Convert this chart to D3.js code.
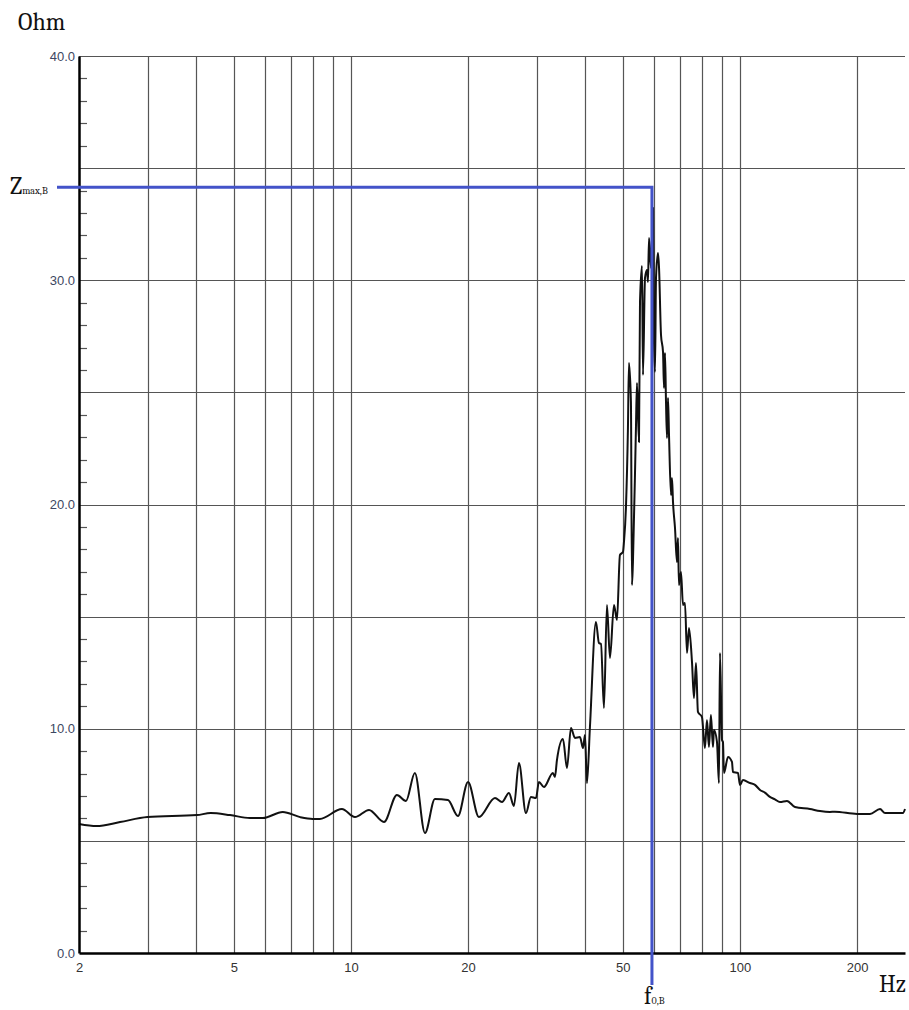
<!DOCTYPE html>
<html>
<head>
<meta charset="utf-8">
<script src="https://cdn.jsdelivr.net/npm/d3@7"></script>
<style>
  body { margin: 0; background: #fff; }
  svg { display: block; }
</style>
</head>
<body>
<div id="my_dataviz"></div>
<script>

// impedance curve (Hz, Ohm)
var freqHz = [2.0, 2.22, 2.55, 3.0, 4.02, 4.36, 4.89, 5.5, 5.94, 6.68, 7.4, 7.98, 8.32, 9.48, 10.24, 11.13, 12.16,
  13.13, 13.85, 14.6, 15.5, 16.44, 17.76, 18.84, 20.0, 21.33, 23.46, 24.45, 25.48, 26.24, 27.03, 28.18, 29.02,
  29.9, 30.43, 31.34, 33.05, 33.45, 33.85, 35.08, 35.92, 36.78, 37.66, 38.79, 39.49, 39.96, 40.43, 41.15,
  42.64, 43.41, 43.93, 44.71, 45.51, 46.33, 47.44, 48.29, 49.15, 50.03, 50.33, 50.93, 51.53, 51.84, 52.45,
  52.77, 53.08, 54.03, 54.36, 55.01, 55.34, 56.0, 56.33, 57.0, 57.68, 58.02, 58.37, 59.06, 59.77, 60.12,
  60.48, 60.84, 61.56, 61.93, 62.67, 63.42, 63.79, 64.17, 64.55, 64.93, 65.32, 65.71, 66.49, 66.88, 67.28,
  68.08, 68.87, 69.28, 69.7, 70.53, 71.38, 72.22, 73.09, 73.96, 75.28, 76.17, 77.09, 77.98, 79.86, 81.28,
  82.26, 83.23, 84.21, 85.23, 85.74, 87.28, 88.31, 88.84, 89.9, 90.43, 90.98, 93.16, 95.38, 95.94, 98.83,
  100, 101.8, 106.1, 109.3, 112.6, 115.9, 119.4, 123.0, 126.7, 132.1, 138.5, 151.3, 160.6, 170.3, 175.4,
  200, 215.9, 229.1, 236.0, 262.4, 265.6];
var ohm = [5.75, 5.66, 5.84, 6.06, 6.15, 6.24, 6.15, 6.02, 6.02, 6.29, 6.06, 5.98, 5.98, 6.42, 6.06, 6.38, 5.84,
  7.05, 6.78, 8.03, 5.35, 6.87, 6.82, 6.11, 7.63, 6.06, 6.91, 6.73, 7.14, 6.56, 8.47, 6.24, 6.96,
  6.91, 7.63, 7.4, 8.03, 7.85, 8.6, 9.54, 8.25, 10.03, 9.59, 9.63, 9.14, 9.72, 7.58, 10.08,
  14.76, 13.82, 13.78, 10.93, 15.52, 13.15, 15.52, 14.85, 17.75, 17.88, 18.33, 19.89, 23.41, 26.31, 24.57,
  16.41, 17.44, 23.41, 25.42, 22.79, 29.03, 30.64, 25.78, 30.1, 30.46, 29.92, 31.88, 30.55, 33.22, 27.25,
  25.91, 30.1, 31.22, 30.59, 27.56, 26.8, 25.2, 26.76, 24.57, 22.97, 24.75, 23.1, 20.42, 21.18, 20.11,
  18.95, 17.44, 18.51, 16.41, 16.99, 15.52, 15.61, 13.38, 14.49, 12.98, 11.37, 12.93, 10.75, 10.52, 9.14,
  10.39, 9.19, 10.61, 9.19, 9.94, 9.41, 7.58, 13.38, 9.5, 9.41, 8.03, 8.74, 8.52, 8.07, 8.03,
  7.49, 7.71, 7.58, 7.5, 7.27, 7.15, 6.96, 6.85, 6.73, 6.78, 6.51, 6.42, 6.33, 6.29, 6.3,
  6.2, 6.2, 6.42, 6.24, 6.24, 6.42];

// axis ticks and grid
var xTickValues = [2, 5, 10, 20, 50, 100, 200];
var xGridValues = [3, 4, 5, 6, 7, 8, 9, 10, 20, 30, 40, 50, 60, 70, 80, 90, 100, 200];
var yTickValues = [0, 10, 20, 30, 40];
var yGridValues = [5, 10, 15, 20, 25, 30, 35, 40];
var yMinorValues = d3.range(1, 40);

// resonance marker
var f0 = 59.4;
var zMax = 34.15;

var margin = { top: 56, right: 4, bottom: 57, left: 79 },
  width = 909 - margin.left - margin.right,
  height = 1010 - margin.top - margin.bottom;

var svg = d3.select("#my_dataviz")
  .append("svg")
  .attr("width", 909)
  .attr("height", 1010);

var g = svg.append("g")
  .attr("transform", "translate(" + margin.left + "," + margin.top + ")");

var x = d3.scaleLog()
  .domain([2, 265.6])
  .range([0, width]);

var y = d3.scaleLinear()
  .domain([0, 40])
  .range([height, 0]);

// grid lines
g.selectAll(".vgrid")
  .data(xGridValues)
  .enter()
  .append("line")
  .attr("x1", function (d) { return Math.round(x(d)) + 0.5; })
  .attr("x2", function (d) { return Math.round(x(d)) + 0.5; })
  .attr("y1", 0)
  .attr("y2", height)
  .attr("stroke", "#555")
  .attr("stroke-width", 1.2);

g.selectAll(".hgrid")
  .data(yGridValues)
  .enter()
  .append("line")
  .attr("x1", 0)
  .attr("x2", width)
  .attr("y1", function (d) { return Math.round(y(d)) + 0.5; })
  .attr("y2", function (d) { return Math.round(y(d)) + 0.5; })
  .attr("stroke", "#555")
  .attr("stroke-width", 1.2);

// minor ticks on the Ohm axis
g.selectAll(".minor")
  .data(yMinorValues.filter(function (d) { return d % 5 != 0; }))
  .enter()
  .append("line")
  .attr("x1", 0)
  .attr("x2", 8)
  .attr("y1", function (d) { return Math.round(y(d)) + 0.5; })
  .attr("y2", function (d) { return Math.round(y(d)) + 0.5; })
  .attr("stroke", "#555")
  .attr("stroke-width", 1.2);

// the impedance curve
var points = freqHz.map(function (f, i) { return [f, ohm[i]]; });
var line = d3.line()
  .x(function (d) { return x(d[0]); })
  .y(function (d) { return y(d[1]); })
  .curve(d3.curveMonotoneX);

g.append("path")
  .datum(points)
  .attr("fill", "none")
  .attr("stroke", "#111")
  .attr("stroke-width", 2)
  .attr("stroke-linejoin", "round")
  .attr("d", line);

// axes
var yAxis = g.append("g")
  .call(d3.axisLeft(y).tickValues(yTickValues).tickSize(0).tickPadding(4).tickFormat(d3.format(".1f")));
yAxis.select(".domain").attr("stroke", "#000").attr("stroke-width", 2.5);
yAxis.selectAll("text")
  .attr("font-family", "Liberation Sans, Arial, sans-serif")
  .attr("font-size", "13px")
  .attr("fill", "#3d4762");

var xAxis = g.append("g")
  .attr("transform", "translate(0," + height + ")")
  .call(d3.axisBottom(x).tickValues(xTickValues).tickSize(0).tickPadding(10).tickFormat(d3.format("d")));
xAxis.select(".domain").attr("stroke", "#000").attr("stroke-width", 2.5);
xAxis.selectAll("text")
  .attr("font-family", "Liberation Sans, Arial, sans-serif")
  .attr("font-size", "13px")
  .attr("fill", "#333");

// blue markers for f0 and Zmax
g.append("path")
  .attr("d", "M" + (57 - margin.left) + "," + y(zMax) + "H" + x(f0) + "V" + (985 - margin.top))
  .attr("fill", "none")
  .attr("stroke", "#4353c9")
  .attr("stroke-width", 3);

// labels
var serif = "Cambria, Liberation Serif, DejaVu Serif, serif";

svg.append("text")
  .attr("x", 18)
  .attr("y", 30)
  .attr("font-family", serif)
  .attr("font-size", "24px")
  .attr("fill", "#111")
  .text("Ohm");

svg.append("text")
  .attr("x", 906)
  .attr("y", 992)
  .attr("text-anchor", "end")
  .attr("font-family", serif)
  .attr("font-size", "24px")
  .attr("fill", "#111")
  .text("Hz");

var zLabel = svg.append("text")
  .attr("x", 10)
  .attr("y", margin.top + y(zMax) + 7)
  .attr("font-family", serif)
  .attr("font-size", "24px")
  .attr("fill", "#111");
zLabel.append("tspan").text("Z");
zLabel.append("tspan").attr("font-size", "10px").text("max,B");

var fLabel = svg.append("text")
  .attr("x", margin.left + x(f0) - 8)
  .attr("y", 1004)
  .attr("font-family", serif)
  .attr("font-size", "24px")
  .attr("fill", "#111");
fLabel.append("tspan").text("f");
fLabel.append("tspan").attr("font-size", "10px").text("0,B");

</script>
</body>
</html>
